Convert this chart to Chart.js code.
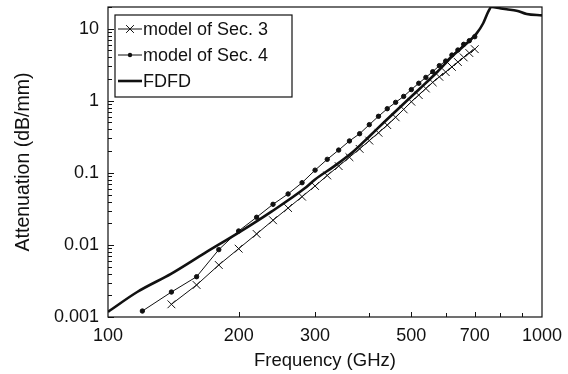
<!DOCTYPE html>
<html><head><meta charset="utf-8">
<script src="https://cdn.jsdelivr.net/npm/chart.js@4"></script>
<style>html,body{margin:0;padding:0;background:#fff}#wrap{width:568px;height:374px}</style>
</head><body><div id="wrap"><canvas id="c" width="568" height="374"></canvas></div>
<script>
// ---- data ----
const freqSec3 = [140,160,180,200,220,240,260,280,300,320,340,360,380,400,420,440,460,480,500,520,540,560,580,600,620,640,660,680,700];
const attSec3  = [0.0015,0.00278,0.00527,0.00887,0.0142,0.022,0.0325,0.0467,0.0657,0.092,0.124,0.165,0.215,0.28,0.36,0.46,0.59,0.76,0.97,1.2,1.48,1.8,2.15,2.5,2.95,3.45,4.0,4.6,5.2];
const freqSec4 = [120,140,160,180,200,220,240,260,280,300,320,340,360,380,400,420,440,460,480,500,520,540,560,580,600,620,640,660,680,700];
const attSec4  = [0.00121,0.00222,0.00362,0.0086,0.0156,0.0242,0.0366,0.051,0.073,0.109,0.154,0.207,0.277,0.349,0.466,0.609,0.776,0.951,1.15,1.43,1.75,2.11,2.53,3.07,3.56,4.31,5.06,6.07,6.82,7.74];
const freqFDFD = [100,117,140,167,200,238,284,300,333,367,400,438,480,524,575,625,671,707,732,752,765,800,829,874,922,1000];
const attFDFD  = [0.00118,0.00224,0.004,0.0077,0.0148,0.029,0.061,0.081,0.125,0.196,0.32,0.541,0.91,1.49,2.55,4.31,6.27,8.6,11.9,17.2,20,19.2,18.6,17.8,16,15.3];
const xTickVals = [100,200,300,500,700,1000];
const yTickVals = [0.001,0.01,0.1,1,10];
const legendLabels = ['model of Sec. 3','model of Sec. 4','FDFD'];
const xTitle = 'Frequency (GHz)';
const yTitle = 'Attenuation (dB/mm)';

const FONT = "'Liberation Sans', Arial, Helvetica, sans-serif";
const INK = '#111';

const pts = (xs, ys) => xs.map((x, i) => ({x: x, y: ys[i]}));

const framePlugin = {
  id: 'frame',
  afterDatasetsDraw(chart) {
    const {ctx, chartArea: a, scales: {x, y}} = chart;
    ctx.save();
    ctx.strokeStyle = INK;
    ctx.lineWidth = 1.2;
    ctx.strokeRect(a.left, a.top, a.right - a.left, a.bottom - a.top);
    ctx.lineWidth = 1;
    ctx.beginPath();
    for (const d of yTickVals) {
      for (let m = 1; m <= 9; m++) {
        const v = d * m;
        if (v > y.max) break;
        const py = Math.round(y.getPixelForValue(v)) + 0.5;
        const len = m === 1 ? 6 : 4;
        ctx.moveTo(a.left, py); ctx.lineTo(a.left + len, py);
      }
    }
    for (let v = 200; v < 1000; v += 100) {
      const px = Math.round(x.getPixelForValue(v)) + 0.5;
      const len = xTickVals.includes(v) ? 5 : 4;
      ctx.moveTo(px, a.bottom); ctx.lineTo(px, a.bottom - len);
    }
    ctx.stroke();
    ctx.restore();
  },
  afterDraw(chart) {
    const {ctx} = chart;
    const ds = chart.data.datasets;
    ctx.save();
    const bx = 115, by = 15, bw = 177, bh = 82;
    ctx.fillStyle = '#fff';
    ctx.fillRect(bx, by, bw, bh);
    ctx.strokeStyle = INK; ctx.lineWidth = 1.2;
    ctx.strokeRect(bx, by, bw, bh);
    const rows = [29, 55, 81];
    const order = [2, 1, 0];
    ctx.font = '18px ' + FONT;
    ctx.textBaseline = 'middle';
    rows.forEach((ry, i) => {
      const d = ds[order[i]];
      ctx.strokeStyle = INK;
      ctx.lineWidth = d.borderWidth;
      ctx.beginPath(); ctx.moveTo(118, ry); ctx.lineTo(142, ry); ctx.stroke();
      if (d.pointRadius > 0) {
        if (d.pointStyle === 'circle') { ctx.fillStyle = INK; ctx.beginPath(); ctx.arc(130, ry, d.pointRadius, 0, Math.PI*2); ctx.fill(); }
        else { ctx.lineWidth = 1; Chart.helpers.drawPoint(ctx, {pointStyle: d.pointStyle, radius: d.pointRadius, borderWidth: 1}, 130, ry); }
      }
      ctx.fillStyle = INK;
      ctx.fillText(legendLabels[i], 143, ry + 1);
    });
    ctx.restore();
  }
};

new Chart(document.getElementById('c'), {
  type: 'line',
  data: {
    datasets: [
      {label: legendLabels[2], data: pts(freqFDFD, attFDFD), borderColor: INK, borderWidth: 2.6,
       pointRadius: 0, cubicInterpolationMode: 'monotone', fill: false},
      {label: legendLabels[1], data: pts(freqSec4, attSec4), borderColor: INK, borderWidth: 1,
       pointStyle: 'circle', pointRadius: 2.2, pointBackgroundColor: INK, pointBorderColor: INK, tension: 0, fill: false},
      {label: legendLabels[0], data: pts(freqSec3, attSec3), borderColor: INK, borderWidth: 1,
       pointStyle: 'crossRot', pointRadius: 5.5, pointBorderColor: INK, pointBorderWidth: 1, tension: 0, fill: false}
    ]
  },
  options: {
    responsive: false, animation: false, devicePixelRatio: 1,
    layout: {padding: {left: 0, right: 26, top: 7, bottom: 0}},
    plugins: {legend: {display: false}, tooltip: {enabled: false}},
    scales: {
      x: {
        type: 'logarithmic', min: 100, max: 1000,
        afterBuildTicks: s => { s.ticks = xTickVals.map(v => ({value: v})); },
        afterFit: s => { s.height = 57; s.paddingLeft = 0; s.paddingRight = 0; },
        grid: {display: false, drawTicks: false}, border: {display: false},
        ticks: {padding: 8, color: INK, font: {family: FONT, size: 18}, maxRotation: 0, autoSkip: false,
                callback: v => String(v)},
        title: {display: true, text: xTitle, color: INK, font: {family: FONT, size: 18.5}, padding: {top: 0, bottom: 2}}
      },
      y: {
        type: 'logarithmic', min: 0.001, max: 20,
        afterBuildTicks: s => { s.ticks = yTickVals.map(v => ({value: v})); },
        afterFit: s => { s.width = 108; s.paddingTop = 0; s.paddingBottom = 0; },
        grid: {display: false, drawTicks: false}, border: {display: false},
        ticks: {padding: 9, color: INK, font: {family: FONT, size: 18}, autoSkip: false,
                callback: v => String(v)},
        title: {display: true, text: yTitle, color: INK, font: {family: FONT, size: 19.5}, padding: {top: 12, bottom: 0}}
      }
    }
  },
  plugins: [framePlugin]
});
</script></body></html>
